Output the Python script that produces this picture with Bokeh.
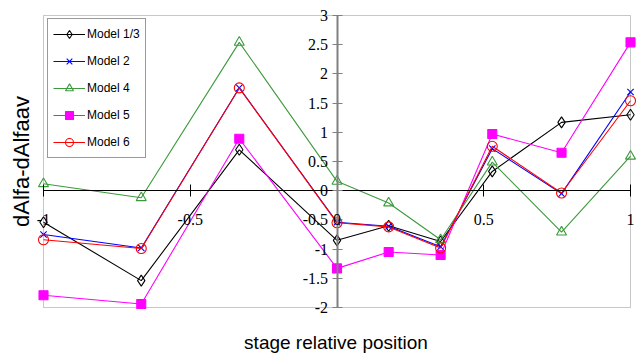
from bokeh.plotting import figure
from bokeh.models import (Range1d, LinearAxis, FixedTicker, Legend, LegendItem,
                          LabelSet, ColumnDataSource, BoxAnnotation)
from bokeh.embed import file_html
from bokeh.resources import INLINE

# ---- data ----
x_pos = [-1, -0.667, -0.333, 0, 0.176, 0.353, 0.529, 0.765, 1]
model_13 = [-0.54, -1.54, 0.70, -0.85, -0.60, -0.87, 0.33, 1.17, 1.30]
model_2 = [-0.75, -0.98, 1.76, -0.54, -0.61, -0.96, 0.72, -0.05, 1.69]
model_4 = [0.12, -0.12, 2.54, 0.16, -0.21, -0.84, 0.49, -0.71, 0.59]
model_5 = [-1.79, -1.94, 0.89, -1.33, -1.05, -1.10, 0.97, 0.65, 2.54]
model_6 = [-0.84, -0.99, 1.76, -0.55, -0.62, -0.98, 0.76, -0.04, 1.54]

x_ticks = [-1, -0.5, 0, 0.5, 1]
x_tick_labels = ["-1", "-0.5", "0", "0.5", "1"]
y_ticks = [-2, -1.5, -1, -0.5, 0, 0.5, 1, 1.5, 2, 2.5, 3]
y_tick_labels = ["-2", "-1.5", "-1", "-0.5", "0", "0.5", "1", "1.5", "2", "2.5", "3"]

x_title = "stage relative position"
y_title = "dAlfa-dAlfaav"

x_lo, x_hi = -1, 1
y_lo, y_hi = -2, 3

FONT = "Liberation Sans"

# frame is padded a little beyond the plot area so edge tick labels are not clipped
p = figure(width=639, height=356, output_backend="svg", toolbar_location=None,
           x_range=Range1d(x_lo - 0.0273, x_hi + 0.0204),
           y_range=Range1d(y_lo - 0.154, y_hi + 0.154),
           min_border_left=35, min_border_right=3, min_border_top=6, min_border_bottom=40)
p.background_fill_color = "white"
p.border_fill_color = "white"
p.outline_line_color = None
p.grid.visible = False

# plot-area border
p.add_layout(BoxAnnotation(left=x_lo, right=x_hi, bottom=y_lo, top=y_hi,
                           fill_alpha=0, line_color="#444444", line_width=1,
                           level="underlay"))

# outer axes used only for titles
for ax in (p.xaxis[0], p.yaxis[0]):
    ax.ticker = FixedTicker(ticks=[])
    ax.axis_line_color = None
    ax.major_tick_line_color = None
    ax.minor_tick_line_color = None
    ax.major_label_standoff = 0
    ax.axis_label_text_font = FONT
    ax.axis_label_text_font_style = "normal"
    ax.axis_label_text_color = "black"
p.xaxis[0].axis_label = x_title
p.xaxis[0].axis_label_text_font_size = "19px"
p.xaxis[0].axis_label_standoff = 15
p.yaxis[0].axis_label = y_title
p.yaxis[0].axis_label_text_font_size = "22px"
p.yaxis[0].axis_label_standoff = 2

# crossing axes at zero (lines and ticks)
xa = LinearAxis(fixed_location=0, ticker=FixedTicker(ticks=x_ticks), bounds=(x_lo, x_hi))
xa.axis_line_color = "black"
xa.major_tick_line_color = "black"
xa.major_tick_in = 6
xa.major_tick_out = 6
xa.minor_tick_line_color = None
xa.major_label_text_color = None
p.add_layout(xa, "below")

ya = LinearAxis(fixed_location=0, ticker=FixedTicker(ticks=y_ticks), bounds=(y_lo, y_hi))
ya.axis_line_color = "#808080"
ya.axis_line_width = 2
ya.major_tick_line_color = "#808080"
ya.major_tick_in = 5
ya.major_tick_out = 5
ya.minor_tick_line_color = None
ya.major_label_text_color = None
p.add_layout(ya, "left")

# tick labels
xlab_src = ColumnDataSource(dict(x=x_ticks, y=[0] * len(x_ticks), text=x_tick_labels))
ylab_src = ColumnDataSource(dict(x=[0] * len(y_ticks), y=y_ticks, text=y_tick_labels))
p.add_layout(LabelSet(x="x", y="y", text="text", source=xlab_src,
                      text_align="center", text_baseline="middle", y_offset=-29,
                      text_font=FONT, text_font_size="16px", text_color="black"))
p.add_layout(LabelSet(x="x", y="y", text="text", source=ylab_src,
                      text_align="right", text_baseline="middle", x_offset=-9,
                      text_font=FONT, text_font_size="16px", text_color="black"))

series = [
    ("Model 1/3", model_13, "black", "diamond", 11, None),
    ("Model 2", model_2, "#0000FF", "x", 9, None),
    ("Model 4", model_4, "#3C9A3C", "triangle", 10, None),
    ("Model 5", model_5, "#FF00FF", "square", 9, "#FF00FF"),
    ("Model 6", model_6, "#FF0000", "circle", 10, None),
]

items = []
for name, ys, col, mk, sz, fill in series:
    ln = p.line(x_pos, ys, line_color=col, line_width=1.1)
    sc = p.scatter(x_pos, ys, marker=mk, size=sz, line_color=col,
                   fill_color=fill, line_width=1.1)
    items.append(LegendItem(label=name, renderers=[ln, sc]))

legend = Legend(items=items, location="top_left")
legend.margin = 12
legend.padding = 5
legend.spacing = 7
legend.glyph_width = 32
legend.glyph_height = 20
legend.label_height = 20
legend.label_standoff = 2
legend.label_text_font = FONT
legend.label_text_font_size = "12px"
legend.label_text_color = "black"
legend.border_line_color = "#333333"
legend.border_line_width = 1
legend.background_fill_color = "white"
legend.background_fill_alpha = 1
p.add_layout(legend, "center")

open("out.html", "w").write(file_html(p, INLINE))
